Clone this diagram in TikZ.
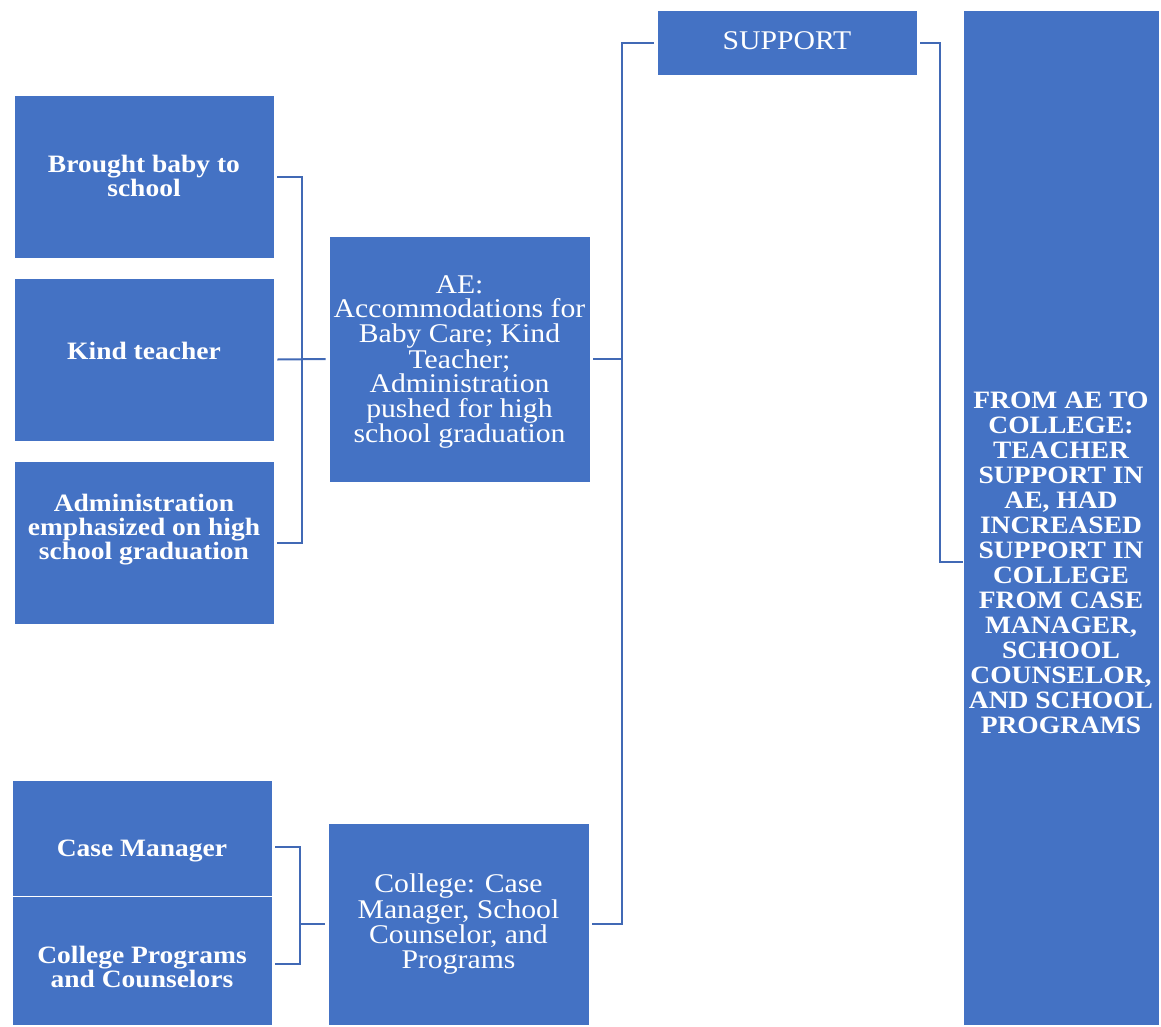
\documentclass[tikz,border=0pt]{standalone}
\usepackage{fontspec}
\setmainfont{Liberation Serif}[FakeStretch=1.1]
\usetikzlibrary{calc}
\definecolor{boxblue}{HTML}{4472C4}
\definecolor{lineblue}{HTML}{4169B5}
\tikzset{
  box/.style={draw=white, line width=0.8pt, fill=boxblue, rectangle, inner sep=0pt},
  btxt/.style={text=white, align=center, font=\fontsize{25}{24}\selectfont\bfseries, inner sep=0pt},
  rtxt/.style={text=white, align=center, font=\fontsize{27}{24.5}\selectfont, inner sep=0pt},
  conn/.style={draw=lineblue, line width=2pt}
}
\begin{document}
\begin{tikzpicture}[x=1pt,y=-1pt]
\useasboundingbox (0,0) rectangle (1161,1026);
% boxes
\node[box, minimum width=260pt, minimum height=163pt] (b1) at (144,176.5) {};
\node[box, minimum width=260pt, minimum height=163pt] (b2) at (144,359.5) {};
\node[box, minimum width=260pt, minimum height=163pt] (b3) at (144,542.5) {};
\node[box, minimum width=260pt, minimum height=116pt] (b4) at (142,838) {};
\node[box, minimum width=260pt, minimum height=129pt] (b5) at (142,960.5) {};
\node[box, minimum width=261pt, minimum height=246pt] (ae) at (459.5,359) {};
\node[box, minimum width=261pt, minimum height=202pt] (col) at (458.5,924) {};
\node[box, minimum width=260pt, minimum height=65pt] (sup) at (787,42.5) {};
\node[box, minimum width=196pt, minimum height=1015pt] (rt) at (1061,517.5) {};
% texts
\node[btxt] (t1) at (144,176) {Brought baby to\\school};
\node[btxt] (t2) at (144,351) {Kind teacher};
\node[btxt] (t3) at (144,530) {Administration\\emphasized on high\\school graduation};
\node[btxt] (t4) at (142,851) {Case Manager};
\node[btxt] (t5) at (142,967) {College Programs\\and Counselors};
\node[rtxt] (tae) at (459.5,362) {AE:\\Accommodations for\\Baby Care; Kind\\Teacher;\\Administration\\pushed for high\\school graduation};
\node[rtxt] (tcol) at (458.5,924) {College: Case\\Manager, School\\Counselor, and\\Programs};
\node[rtxt] (tsup) at (787,41) {SUPPORT};
\node[btxt, font=\fontsize{25}{25}\selectfont\bfseries] (trt) at (1061,563) {FROM AE TO\\COLLEGE:\\TEACHER\\SUPPORT IN\\AE, HAD\\INCREASED\\SUPPORT IN\\COLLEGE\\FROM CASE\\MANAGER,\\SCHOOL\\COUNSELOR,\\AND SCHOOL\\PROGRAMS};
% junction coordinates
\coordinate (j1) at (302,359.5);
\coordinate (j2) at (300,924);
\coordinate (j3) at (622,924);
\coordinate (j4) at (940,562);
% connectors
\draw[conn] ([xshift=3pt]b1.east) -| (j1);
\draw[conn] ([xshift=3pt]b3.east) -| (j1);
\draw[conn] ([xshift=3pt]b2.east) -- ([xshift=-3pt]ae.west);
\draw[conn] ([shift={(3pt,-9pt)}]b4.east) -| (j2);
\draw[conn] ([shift={(3pt,-3.5pt)}]b5.east) -| (j2);
\draw[conn] (j2) -- ([xshift=-3pt]col.west);
\draw[conn] ([xshift=-3pt]sup.west) -| (j3) -- ([xshift=3pt]col.east);
\draw[conn] ([xshift=3pt]ae.east) -- (ae.east -| j3);
\draw[conn] ([xshift=3pt]sup.east) -| (j4) -- (j4 -| rt.west);
\end{tikzpicture}
\end{document}
